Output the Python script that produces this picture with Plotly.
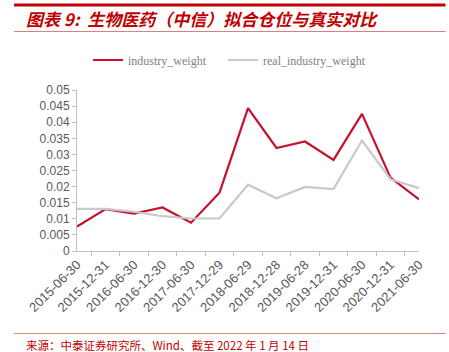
import plotly.graph_objects as go

dates = ["2015-06-30", "2015-12-31", "2016-06-30", "2016-12-30", "2017-06-30",
         "2017-12-29", "2018-06-29", "2018-12-28", "2019-06-28", "2019-12-31",
         "2020-06-30", "2020-12-31", "2021-06-30"]
industry_weight = [0.0076, 0.0130, 0.0116, 0.0135, 0.0088, 0.0181, 0.0444,
                   0.0320, 0.0340, 0.0283, 0.0426, 0.0228, 0.0160]
real_industry_weight = [0.0131, 0.0131, 0.0122, 0.0108, 0.0101, 0.0101, 0.0206,
                        0.0164, 0.0199, 0.0192, 0.0343, 0.0223, 0.0195]
y_ticks = [0, 0.005, 0.01, 0.015, 0.02, 0.025, 0.03, 0.035, 0.04, 0.045, 0.05]
y_labels = ["0", "0.005", "0.01", "0.015", "0.02", "0.025", "0.03", "0.035", "0.04", "0.045", "0.05"]

W, H = 449, 352
L, R, T, B = 77, 419.5, 90, 251

def px(x):
    return (x - L) / (R - L)

def py(y):
    return (B - y) / (B - T)

RED = "#C00000"
GAP = "\u00a0" * 4
fig = go.Figure()
fig.add_trace(go.Scatter(x=dates, y=industry_weight, mode="lines", name="industry_weight" + GAP,
                         line=dict(color="#C8102E", width=2.2)))
fig.add_trace(go.Scatter(x=dates, y=real_industry_weight, mode="lines", name="real_industry_weight",
                         line=dict(color="#C9C9C9", width=2.2)))

fig.update_layout(
    width=W, height=H,
    margin=dict(l=L, r=W - R, t=T, b=H - B),
    plot_bgcolor="white", paper_bgcolor="white",
    showlegend=True,
    legend=dict(orientation="h", x=px(88), xanchor="left", y=py(60), yanchor="middle",
                font=dict(family="Liberation Serif", size=12, color="#7F7F7F"),
                itemwidth=30, tracegroupgap=0),
    xaxis=dict(type="category", showline=True, linecolor="#BFBFBF", linewidth=1,
               ticks="outside", tickson="boundaries", ticklen=4, tickcolor="#BFBFBF",
               tickangle=-45, showgrid=False,
               tickfont=dict(family="Liberation Sans", size=13, color="#595959")),
    yaxis=dict(range=[0, 0.05], tickvals=y_ticks, ticktext=y_labels,
               showline=True, linecolor="#BFBFBF", linewidth=1,
               ticks="outside", ticklen=4, tickcolor="#BFBFBF", showgrid=False, zeroline=False,
               tickfont=dict(family="Liberation Sans", size=12, color="#595959")),
)

shapes = [
    dict(type="line", xref="paper", yref="paper", x0=px(14), x1=px(446), y0=py(5), y1=py(5),
         line=dict(color=RED, width=3)),
    dict(type="line", xref="paper", yref="paper", x0=px(14), x1=px(446), y0=py(31.5), y1=py(31.5),
         line=dict(color="#D98080", width=1)),
    dict(type="line", xref="paper", yref="paper", x0=px(14), x1=px(446), y0=py(333.5), y1=py(333.5),
         line=dict(color="#D98080", width=1)),
]
fig.update_layout(shapes=shapes)

fig.add_annotation(text="<b><i>图表 9:  生物医药（中信）拟合仓位与真实对比</i></b>", xref="paper", yref="paper",
                   x=px(24), y=py(19), xanchor="left", yanchor="middle", showarrow=False,
                   font=dict(family="Noto Sans CJK SC", size=17, color=RED))
fig.add_annotation(text="来源：中泰证券研究所、Wind、截至 2022 年 1 月 14 日", xref="paper", yref="paper",
                   x=px(24), y=py(345), xanchor="left", yanchor="middle", showarrow=False,
                   font=dict(family="Noto Sans CJK SC", size=11.5, color=RED))

fig.write_html("out.html")
